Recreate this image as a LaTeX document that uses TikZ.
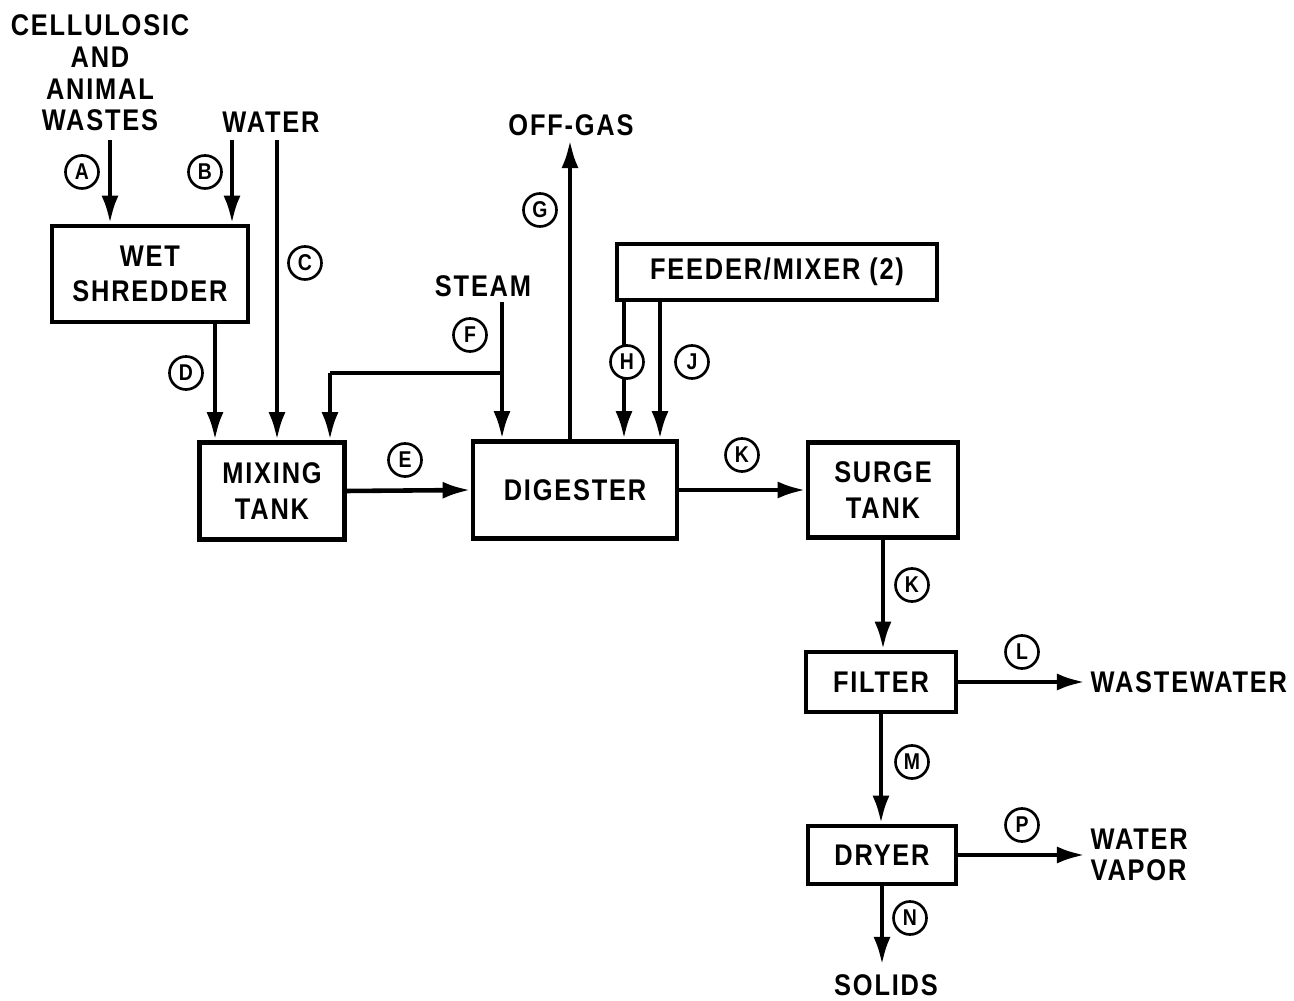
\documentclass[tikz,border=0pt]{standalone}
\usepackage{fontspec}
\setmainfont[LetterSpace=6,FakeStretch=0.85]{Liberation Sans}
\usepackage{tikz}
\usetikzlibrary{calc,arrows.meta}

\tikzset{
  unit/.style={draw, line width=1.3pt, inner sep=0pt, align=center, font=\bfseries\fontsize{8.5}{9}\selectfont},
  txt/.style={inner sep=0pt, align=center, font=\bfseries\fontsize{8.5}{9}\selectfont},
  tag/.style={draw, circle, line width=0.75pt, fill=white, minimum size=0.33cm, inner sep=0pt, font=\bfseries\fontsize{6.5}{6.5}\selectfont},
  flow/.style={line width=1.3pt, -{Latex[length=2.8mm,width=1.7mm]}},
  pipe/.style={line width=1.3pt}
}

\begin{document}
\begin{tikzpicture}[x=0.01cm, y=-0.01cm]
    \useasboundingbox (0,0) rectangle (1294,1001);
    \def\top{140}
    % units
    \node[unit, minimum width=1.96cm, minimum height=0.96cm] (shredder) at (150,274) {WET\\[1pt]SHREDDER};
    \node[unit, minimum width=1.45cm, minimum height=0.97cm] (mixtank) at (272,491) {MIXING\\[1pt]TANK};
    \node[unit, minimum width=2.04cm, minimum height=0.97cm] (digester) at (575,490) {DIGESTER};
    \node[unit, minimum width=1.50cm, minimum height=0.95cm] (surge) at (883,490) {SURGE\\[1pt]TANK};
    \node[unit, minimum width=3.20cm, minimum height=0.56cm] (feeder) at (777,272) {FEEDER/MIXER (2)};
    \node[unit, minimum width=1.50cm, minimum height=0.60cm] (filter) at (881,682) {FILTER};
    \node[unit, minimum width=1.48cm, minimum height=0.58cm] (dryer) at (882,855) {DRYER};
    % streams in and out
    \node[txt] (waste) at (100,73) {CELLULOSIC\\AND\\ANIMAL\\WASTES};
    \node[txt] (water) at (271,122) {WATER};
    \node[txt] (offgas) at (571,125) {OFF-GAS};
    \node[txt] (steam) at (483,286) {STEAM};
    \node[txt, anchor=west] (wastewater) at (1090,682) {WASTEWATER};
    \node[txt, anchor=west, align=left] (vapor) at (1090,855) {WATER\\VAPOR};
    \node[txt] (solids) at (886,985) {SOLIDS};
    \coordinate (a0) at (110,\top);
    \coordinate (b0) at (232,\top);
    \coordinate (c0) at (277,\top);
    \coordinate (f0) at (502,302);
    \coordinate (fb) at (502,373);
    \coordinate (fm) at (330,373);
    \coordinate (g1) at (570,\top);
    \coordinate (l1) at (1085,682);
    \coordinate (p1) at (1085,855);
    \coordinate (n1) at (882,965);
    % connectors
    \draw[flow] (a0) -- (a0 |- shredder.north);
    \draw[flow] (b0) -- (b0 |- shredder.north);
    \draw[flow] (c0) -- (c0 |- mixtank.north);
    \draw[flow] (shredder.south -| 215,0) -- (mixtank.north -| 215,0);
    \draw[flow] (mixtank.east) -- (digester.west);
    \draw[flow] (f0) -- (f0 |- digester.north);
    \draw[pipe] (fb) -- (fm);
    \draw[flow] (fm) -- (fm |- mixtank.north);
    \draw[flow] (digester.north -| g1) -- (g1);
    \draw[flow] (feeder.south -| 624,0) -- (digester.north -| 624,0);
    \draw[flow] (feeder.south -| 660,0) -- (digester.north -| 660,0);
    \draw[flow] (digester.east) -- (surge.west);
    \draw[flow] (surge.south) -- (surge.south |- filter.north);
    \draw[flow] (filter.east) -- (l1);
    \draw[flow] (filter.south) -- (filter.south |- dryer.north);
    \draw[flow] (dryer.south) -- (n1);
    \draw[flow] (dryer.east |- p1) -- (p1);
    % stream letters
    \node[tag] (tA) at (82,172) {A};
    \node[tag] (tB) at (205,172) {B};
    \node[tag] (tC) at (305,263) {C};
    \node[tag] (tD) at (186,373) {D};
    \node[tag] (tE) at (405,460) {E};
    \node[tag] (tF) at (470,335) {F};
    \node[tag] (tG) at (540,210) {G};
    \node[tag] (tH) at (627,362) {H};
    \node[tag] (tJ) at (692,362) {J};
    \node[tag] (tK1) at (742,455) {K};
    \node[tag] (tK2) at (912,585) {K};
    \node[tag] (tL) at (1022,652) {L};
    \node[tag] (tM) at (912,762) {M};
    \node[tag] (tN) at (910,918) {N};
    \node[tag] (tP) at (1022,825) {P};
\end{tikzpicture}
\end{document}
